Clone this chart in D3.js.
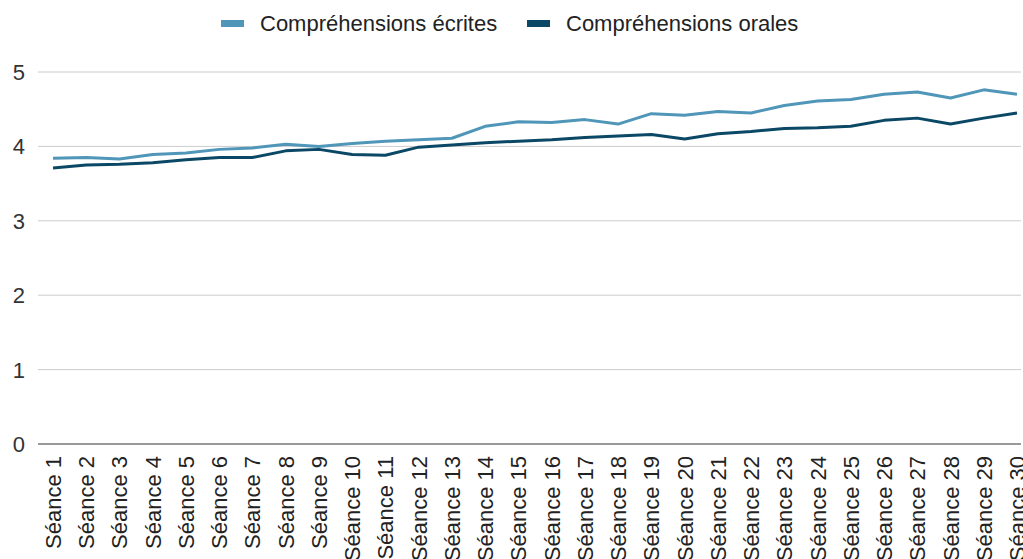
<!DOCTYPE html>
<html>
<head>
<meta charset="utf-8">
<script src="https://cdn.jsdelivr.net/npm/d3@7"></script>
<style>
  body { margin: 0; background: #fff; overflow: hidden; }
  svg { font-family: "Liberation Sans", Arial, sans-serif; display: block; }
</style>
</head>
<body>
<div id="chart"></div>
<script>
const seances = d3.range(1, 31).map(i => 'Séance ' + i)
const ecrites = [3.84, 3.85, 3.83, 3.89, 3.91, 3.96, 3.98, 4.03, 4.00, 4.04,
                 4.07, 4.09, 4.11, 4.27, 4.33, 4.32, 4.36, 4.30, 4.44, 4.42,
                 4.47, 4.45, 4.55, 4.61, 4.63, 4.70, 4.73, 4.65, 4.76, 4.70]
const orales = [3.71, 3.75, 3.76, 3.78, 3.82, 3.85, 3.85, 3.94, 3.96, 3.89,
                3.88, 3.99, 4.02, 4.05, 4.07, 4.09, 4.12, 4.14, 4.16, 4.10,
                4.17, 4.20, 4.24, 4.25, 4.27, 4.35, 4.38, 4.30, 4.38, 4.45]
const yTicks = [0, 1, 2, 3, 4, 5]
const series = [
  { name: 'Compréhensions écrites', values: ecrites, color: '#4f96b9' },
  { name: 'Compréhensions orales', values: orales, color: '#0b4866' }
]

const width = 1023,
  height = 559

const svg = d3.select('#chart')
              .append('svg')
              .attr('width', width)
              .attr('height', height)

const x = d3.scalePoint()
            .domain(seances)
            .range([53, 1017])

const y = d3.scaleLinear()
            .domain([0, 5])
            .range([444, 72])

// grid
svg.append('g')
   .selectAll('line')
   .data(yTicks.filter(d => d > 0))
   .enter()
   .append('line')
   .attr('x1', 38)
   .attr('x2', 1021)
   .attr('y1', d => y(d))
   .attr('y2', d => y(d))
   .attr('stroke', '#cccccc')
   .attr('stroke-width', 1)

// y labels
svg.append('g')
   .selectAll('text')
   .data(yTicks)
   .enter()
   .append('text')
   .attr('x', 25)
   .attr('y', d => y(d) + 8)
   .attr('text-anchor', 'end')
   .attr('font-size', '22px')
   .attr('fill', '#333')
   .text(d => d)

// baseline
svg.append('line')
   .attr('x1', 38)
   .attr('x2', 1021)
   .attr('y1', y(0))
   .attr('y2', y(0))
   .attr('stroke', '#777')
   .attr('stroke-width', 1.5)

// x labels
svg.append('g')
   .selectAll('text')
   .data(seances)
   .enter()
   .append('text')
   .attr('transform', d => 'translate(' + (x(d) + 8) + ',456) rotate(-90)')
   .attr('text-anchor', 'end')
   .attr('font-size', '22px')
   .attr('fill', '#222')
   .text(d => d)

const line = d3.line()
               .x((d, i) => x(seances[i]))
               .y(d => y(d))

svg.selectAll('path.serie')
   .data(series)
   .enter()
   .append('path')
   .attr('class', 'serie')
   .attr('d', d => line(d.values))
   .attr('fill', 'none')
   .attr('stroke', d => d.color)
   .attr('stroke-width', 3)
   .attr('stroke-linejoin', 'round')

// legend
const legendX = [221, 527]
const legend = svg.append('g')
series.forEach((s, i) => {
  legend.append('rect')
        .attr('x', legendX[i])
        .attr('y', 20)
        .attr('width', 23)
        .attr('height', 7)
        .attr('fill', s.color)
  legend.append('text')
        .attr('x', legendX[i] + 39)
        .attr('y', 31)
        .attr('font-size', '22px')
        .attr('fill', '#222')
        .text(s.name)
})
</script>
</body>
</html>
